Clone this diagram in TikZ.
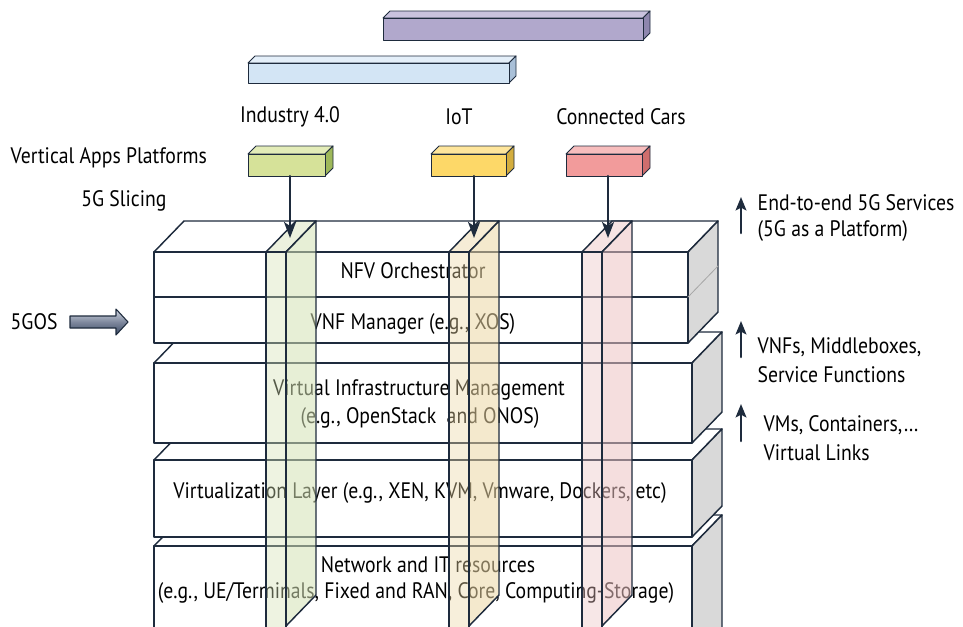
\documentclass[tikz,border=0pt]{standalone}
\usepackage{fontspec}
\setmainfont[FakeStretch=0.88]{PT Sans}
\usetikzlibrary{calc,arrows.meta}

\definecolor{edge}{HTML}{1E2B3D}
\definecolor{sidegray}{HTML}{D9D9D9}
\definecolor{svcAF}{HTML}{B1A8CC}\definecolor{svcAT}{HTML}{C9C2DE}\definecolor{svcAS}{HTML}{8E86AE}
\definecolor{svcBF}{HTML}{D3E5F5}\definecolor{svcBT}{HTML}{E4EFF9}\definecolor{svcBS}{HTML}{A9C0D8}
\definecolor{appIF}{HTML}{D6E299}\definecolor{appIT}{HTML}{E3ECB8}\definecolor{appIS}{HTML}{9EB85A}
\definecolor{appTF}{HTML}{FDD868}\definecolor{appTT}{HTML}{FEE59B}\definecolor{appTS}{HTML}{D3AD3E}
\definecolor{appCF}{HTML}{F29B9B}\definecolor{appCT}{HTML}{F7BDBD}\definecolor{appCS}{HTML}{CE6D6D}
\definecolor{sliceI}{HTML}{D5E2B6}
\definecolor{sliceT}{HTML}{ECD7A5}
\definecolor{sliceC}{HTML}{EDC3C3}
\definecolor{gosdark}{HTML}{3A4864}
\definecolor{goslight}{HTML}{D2D7E3}

% small 3d box: x1 y1 x2 y2 depth colour
\newcommand{\cuboid}[6]{%
	\filldraw[fill=#6T,draw=edge,line width=0.7pt] (#1,#2) -- ++(#5,-#5) -- ({#3+#5},{#2-#5}) -- (#3,#2) -- cycle;
	\filldraw[fill=#6S,draw=edge,line width=0.7pt] (#3,#2) -- ++(#5,-#5) -- ({#3+#5},{#4-#5}) -- (#3,#4) -- cycle;
	\filldraw[fill=#6F,draw=edge,line width=0.7pt] (#1,#2) rectangle (#3,#4);}
% layer slab: x1 y1 x2 y2
\newcommand{\layer}[4]{%
	\filldraw[fill=white,draw=edge] (#1,#2) -- ++(\dx,-\dy) -- ({#3+\dx},{#2-\dy}) -- (#3,#2) -- cycle;
	\filldraw[fill=sidegray,draw=edge] (#3,#2) -- ++(\dx,-\dy) -- ({#3+\dx},{#4-\dy}) -- (#3,#4) -- cycle;
	\filldraw[fill=white,draw=edge] (#1,#2) rectangle (#3,#4);}
% slice column: x colour
\newcommand{\slice}[2]{%
	\filldraw[fill=#2,fill opacity=0.45,draw=edge] (#1,252) -- ++(\dx,-\dy) -- ++(20,0) -- ++(-\dx,\dy) -- cycle;
	\filldraw[fill=#2,fill opacity=0.55,draw=edge] ({#1+20},252) -- ++(\dx,-\dy) -- ({#1+20+\dx},{626-\dy}) -- ({#1+20},626) -- cycle;
	\filldraw[fill=#2,fill opacity=0.4,draw=edge] (#1,252) rectangle ({#1+20},640);}

\begin{document}
\begin{tikzpicture}[x=0.75pt,y=-0.75pt,font=\fontsize{16.8}{19}\selectfont,line join=round,line cap=round,
	slicearrow/.style={-{Stealth[length=12pt,width=9pt,inset=3pt]},edge,line width=1.6pt},
	uparrow/.style={-{Stealth[length=10pt,width=8pt,inset=2pt]},edge,line width=1.9pt}]
	\def\dx{30} \def\dy{31}
	\useasboundingbox (0,0) rectangle (963,626);
	\clip (0,0) rectangle (963,626);
	% services on top
	\cuboid{383}{18}{643}{40}{7}{svcA}
	\cuboid{248}{63}{509}{83}{7}{svcB}
	\node (ind) at (290,117) {Industry 4.0};
	\node (iot) at (459,117) {IoT};
	\node (car) at (621,117) {Connected Cars};
	\node[anchor=west] (vap) at (6,158) {Vertical Apps Platforms};
	\node (sli) at (124,201) {5G Slicing};
	\cuboid{248}{154}{325}{176}{8}{appI}
	\cuboid{431}{154}{506}{176}{8}{appT}
	\cuboid{566}{154}{642}{176}{8}{appC}
	% layers, bottom first
	\begin{scope}[line width=1.1pt]
		\layer{154}{546}{692}{660}
		\layer{154}{460}{692}{537}
		\layer{154}{363}{692}{443}
		\layer{154}{252}{688}{343}
		\draw[edge] (154,297) -- (688,297);
		\draw[gray!70,line width=0.6pt] (688,297) -- ++(\dx,-\dy);
	\end{scope}
	\node (nfv) at (413,271) {NFV Orchestrator};
	\node (vnf) at (413,324) {VNF Manager (e.g., XOS)};
	\node (vim) at (419,390) {Virtual Infrastructure Management};
	\node (vimx) at (420,418) {(e.g., OpenStack\ \ and ONOS)};
	\node (vir) at (420,493) {Virtualization Layer (e.g., XEN, KVM, Vmware, Dockers, etc)};
	\node (net) at (428,565) {Network and IT resources};
	\node (netx) at (416,593) {(e.g., UE/Terminals, Fixed and RAN, Core, Computing-Storage)};
	% slices
	\begin{scope}[line width=1.1pt]
		\slice{266}{sliceI}
		\slice{449}{sliceT}
		\slice{582}{sliceC}
	\end{scope}
	\coordinate (indb) at (290,176); \coordinate (indt) at (290,238);
	\coordinate (iotb) at (474,176); \coordinate (iott) at (474,238);
	\coordinate (carb) at (608,176); \coordinate (cart) at (608,238);
	\draw[slicearrow] (indb) -- (indt);
	\draw[slicearrow] (iotb) -- (iott);
	\draw[slicearrow] (carb) -- (cart);
	% 5GOS
	\node[anchor=west] (gos) at (6,322) {5GOS};
	\shade[top color=goslight,bottom color=gosdark,middle color=gosdark!55!goslight,draw=edge,line width=0.8pt]
		(70,316) -- (116,316) -- (116,309) -- (128,322) -- (116,335) -- (116,328) -- (70,328) -- cycle;
	% right side
	\coordinate (e1) at (741,233); \coordinate (e1t) at (741,197);
	\coordinate (e2) at (741,357); \coordinate (e2t) at (741,321);
	\coordinate (e3) at (741,441); \coordinate (e3t) at (741,404);
	\draw[uparrow] (e1) -- (e1t);
	\draw[uparrow] (e2) -- (e2t);
	\draw[uparrow] (e3) -- (e3t);
	\node[anchor=west] (svc) at (753,203) {End-to-end 5G Services};
	\node[anchor=west] (svcx) at (753,231) {(5G as a Platform)};
	\node[anchor=west] (vnfs) at (753,347) {VNFs, Middleboxes,};
	\node[anchor=west] (vnfx) at (753,375) {Service Functions};
	\node[anchor=west] (vms) at (759,425) {VMs, Containers,\dots};
	\node[anchor=west] (vmx) at (759,453) {Virtual Links};
\end{tikzpicture}
\end{document}
